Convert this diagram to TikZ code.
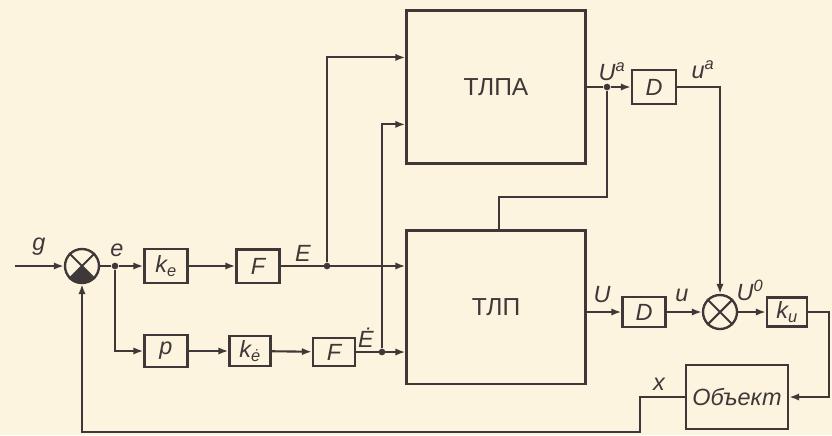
\documentclass[tikz,border=0pt]{standalone}
\usepackage{fontspec}
\setmainfont{Liberation Sans}
\usetikzlibrary{arrows.meta,positioning,calc}
\definecolor{paper}{RGB}{252,244,222}
\definecolor{ink}{RGB}{62,56,56}

\begin{document}
\begin{tikzpicture}[
    x=0.3mm,y=-0.3mm,
    every node/.style={font=\fontsize{20}{22}\selectfont\itshape,text=ink},
    blk/.style={draw=ink,line width=2pt,minimum width=12.9mm,minimum height=10mm,inner sep=0pt},
    big/.style={blk,minimum width=53.7mm,minimum height=46mm,font=\fontsize{21}{23}\selectfont},
    sum/.style={draw=ink,circle,line width=2pt,minimum size=10.2mm,inner sep=0pt},
    lnk/.style={draw=ink,line width=1.8pt},
    arr/.style={lnk,-{Latex[length=3mm,width=2.2mm]}},
    dot/.style={circle,fill=ink,inner sep=0pt,minimum size=2mm}
]
\useasboundingbox[fill=paper] (0,0) rectangle (832,435);

% blocks
\node[sum] (s1) at (82,266) {};
\node[blk,minimum height=10.2mm] (ke) at (166,266) {k\textsubscript{e}};
\node[blk] (f1) at (258,266) {F};
\node[blk,minimum height=9.6mm] (p) at (166,351) {p};
\node[blk,minimum width=12.3mm,minimum height=9mm] (ked) at (250,351) {k\textsubscript{ė}};
\node[blk,minimum width=12.6mm,minimum height=8.4mm] (f2) at (334,352) {F};
\node[big] (tlpa) at (496,87) {ТЛПА};
\node[big] (tlp) at (496,307) {ТЛП};
\node[blk,minimum width=13.2mm,minimum height=10.2mm] (d1) at (654,87) {D};
\node[blk,minimum height=9mm] (d2) at (644,312) {D};
\node[sum] (s2) at (720,312) {};
\node[blk,minimum width=12mm,minimum height=8.7mm] (ku) at (787,312) {k\textsubscript{u}};
\node[blk,minimum width=30.6mm,minimum height=19.2mm] (obj) at (737,397) {Объект};

% sum junctions
\draw[lnk] (s1.45) -- (s1.-135) (s1.135) -- (s1.-45);
\fill[ink] (s1.center) -- (s1.-135) arc[start angle=-135,end angle=-45,radius=5.1mm] -- cycle;
\draw[lnk] (s2.45) -- (s2.-135) (s2.135) -- (s2.-45);

% branch points
\node[dot] (edot) at (115,266) {};
\node[dot] (Edot) at (327,266) {};
\node[dot] (Eddot) at (382,352) {};
\node[dot] (Uadot) at (607,87) {};
\coordinate (gin) at (15,266);
\coordinate (ina1) at ($(tlpa.north west)!0.31!(tlpa.south west)$);
\coordinate (ina2) at ($(tlpa.north west)!0.74!(tlpa.south west)$);
\coordinate (bend) at (499,197);
\coordinate (rgt) at (829,312);
\coordinate (fb1) at (640,432);

% signal lines
\draw[arr] (gin) -- (s1);
\draw[lnk] (s1) -- (edot);
\draw[arr] (edot) -- (ke);
\draw[arr] (ke) -- (f1);
\draw[arr] (f1) -- (tlp.west |- f1);
\draw[arr] (edot) |- (p);
\draw[arr] (p) -- (ked);
\draw[arr] (ked) -- (f2);
\draw[arr] (f2) -- (tlp.west |- f2);
\draw[arr] (Edot) |- (ina1);
\draw[arr] (Eddot) |- (ina2);
\draw[lnk] (tlpa.east) -- (Uadot);
\draw[arr] (Uadot) -- (d1);
\draw[lnk] (Uadot) |- (bend) -- (tlp.north -| bend);
\draw[arr] (d1) -| (s2);
\draw[arr] (tlp.east |- d2) -- (d2);
\draw[arr] (d2) -- (s2);
\draw[arr] (s2) -- (ku);
\draw[arr] (ku) -- (rgt) |- (obj);
\draw[arr] (obj) -| (fb1) -| (s1);

% labels
\node (gl) at (39,247) {g};
\node (el) at (117,250) {e};
\node (El) at (303,253) {E};
\node[anchor=east] (Edl) at (378,338) {Ė};
\node (Ual) at (612,72) {U\textsuperscript{a}};
\node (ual) at (703,70) {u\textsuperscript{a}};
\node (Ul) at (602,295) {U};
\node (ul) at (682,295) {u};
\node (u0l) at (750,290) {U\textsuperscript{0}};
\node (xl) at (659,384) {x};
\end{tikzpicture}
\end{document}
